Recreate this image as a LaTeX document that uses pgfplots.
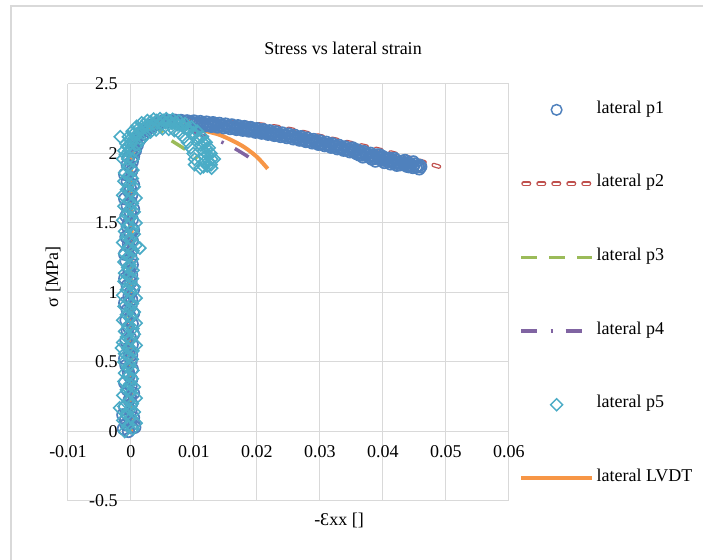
\documentclass[border=0pt]{standalone}
\usepackage{fontspec}
\setmainfont{Liberation Serif}
\usepackage{pgfplots}
\pgfplotsset{compat=1.18}
\definecolor{cP1}{HTML}{4F81BD}
\definecolor{cP2}{HTML}{C0504D}
\definecolor{cP3}{HTML}{9BBB59}
\definecolor{cP4}{HTML}{8064A2}
\definecolor{cP5}{HTML}{4BACC6}
\definecolor{cLV}{HTML}{F79646}
\definecolor{cGrid}{HTML}{D9D9D9}
\newcommand{\fs}{\fontsize{13.5}{16}\selectfont}
\begin{document}
\begin{tikzpicture}[font=\fs]
\path[use as bounding box] (-51pt,-44.25pt) rectangle (476.25pt,375.75pt);
\fill[white] (-51pt,-44.25pt) rectangle (476.25pt,375.75pt);
\draw[cGrid, line width=0.9pt] (-42.75pt,371.25pt) rectangle (520pt,-80pt);
\begin{axis}[
  scale only axis, width=330.75pt, height=312.75pt,
  xmin=-0.01, xmax=0.06, ymin=-0.5, ymax=2.5,
  enlargelimits=false,
  axis lines=middle, axis line style={cGrid, line width=0.75pt, -},
  hide obscured x ticks=false, hide obscured y ticks=false,
  xtick={-0.01,0,0.01,0.02,0.03,0.04,0.05,0.06},
  ytick={-0.5,0,0.5,1,1.5,2,2.5},
  grid=major, major grid style={cGrid, line width=0.75pt},
  major tick length=0pt,
  scaled x ticks=false, scaled y ticks=false,
  /pgf/number format/assume math mode=true,
  xticklabel style={/pgf/number format/fixed, /pgf/number format/precision=2, yshift=-7pt},
  yticklabel style={xshift=-6.5pt},
  tick label style={font=\fs},
  legend cell align=left,
  legend style={at={(axis description cs:1.0227,0.496)}, anchor=west, draw=none, fill=none,
    inner sep=0pt, row sep=41.7pt, font=\fs,
    nodes={text height=0.72em, text depth=0.24em}},
]
% ---------- lateral p1 (circles)
\addplot[only marks, mark=o, mark size=4.3pt, mark options={cP1, line width=1.3pt}, forget plot] coordinates {
(-0.0004,0.000)(0.0002,0.025)(-0.0008,0.050)(-0.0001,0.075)(0.0004,0.100)(-0.0006,0.125)(0.0000,0.150)(-0.0010,0.175)(0.0001,0.200)(-0.0003,0.225)
(-0.0001,0.250)(0.0004,0.275)(-0.0006,0.300)(0.0000,0.325)(-0.0010,0.350)(0.0001,0.375)(-0.0003,0.400)(-0.0004,0.425)(0.0002,0.450)(-0.0008,0.475)
(0.0000,0.500)(-0.0010,0.525)(0.0001,0.550)(-0.0003,0.575)(-0.0004,0.600)(0.0002,0.625)(-0.0008,0.650)(-0.0001,0.675)(0.0004,0.700)(-0.0006,0.725)
(-0.0004,0.750)(0.0002,0.775)(-0.0008,0.800)(-0.0001,0.825)(0.0004,0.850)(-0.0006,0.875)(0.0000,0.900)(-0.0010,0.925)(0.0001,0.950)(-0.0003,0.975)
(-0.0001,1.000)(0.0004,1.025)(-0.0006,1.050)(0.0000,1.075)(-0.0010,1.100)(0.0001,1.125)(-0.0003,1.150)(-0.0004,1.175)(0.0002,1.200)(-0.0008,1.225)
(0.0000,1.250)(-0.0010,1.275)(0.0001,1.300)(-0.0003,1.325)(-0.0004,1.350)(0.0002,1.375)(-0.0008,1.400)(-0.0001,1.425)(0.0004,1.450)(-0.0006,1.475)
(-0.0004,1.500)(0.0002,1.525)(-0.0008,1.550)(-0.0001,1.575)(0.0004,1.600)(-0.0006,1.625)(0.0000,1.650)(-0.0010,1.675)(0.0001,1.700)(-0.0003,1.725)
(-0.0001,1.750)(0.0004,1.775)(-0.0006,1.800)(0.0000,1.825)(-0.0010,1.850)(0.0001,1.875)
(-0.0012,0.02)(0.0006,0.03)(-0.0009,0.08)(0.0005,0.06)(-0.0013,0.12)
(0.0000,1.90)(0.0002,1.94)(0.0004,1.98)(0.0007,2.02)(0.0010,2.06)(0.0014,2.10)(0.0019,2.135)(0.0025,2.165)(0.0032,2.19)
(0.0040,2.21)(0.0048,2.222)(0.0056,2.229)(0.0064,2.232)(0.0072,2.233)(0.0080,2.232)(0.0088,2.23)(0.0095,2.228)
(-0.0006,1.92)(-0.0004,1.97)(0.0000,2.02)(0.0004,2.07)(0.0009,2.11)(0.0015,2.15)(0.0022,2.18)(0.003,2.2)(0.0039,2.218)
(0.0049,2.23)(0.0059,2.238)(0.0069,2.24)(0.0079,2.238)(0.0089,2.235)(0.0097,2.215)
(0.01000,2.234)(0.01025,2.213)(0.01050,2.222)(0.01075,2.203)
(0.01100,2.230)(0.01125,2.209)(0.01150,2.218)(0.01175,2.199)
(0.01200,2.226)(0.01225,2.205)(0.01250,2.214)(0.01275,2.195)
(0.01300,2.222)(0.01325,2.201)(0.01350,2.210)(0.01375,2.190)
(0.01400,2.217)(0.01425,2.196)(0.01450,2.205)(0.01475,2.185)
(0.01500,2.212)(0.01525,2.190)(0.01550,2.199)(0.01575,2.179)
(0.01600,2.206)(0.01625,2.184)(0.01650,2.193)(0.01675,2.173)
(0.01700,2.200)(0.01725,2.178)(0.01750,2.187)(0.01775,2.167)
(0.01800,2.194)(0.01825,2.172)(0.01850,2.180)(0.01875,2.161)
(0.01900,2.187)(0.01925,2.165)(0.01950,2.173)(0.01975,2.153)
(0.02000,2.179)(0.02025,2.157)(0.02050,2.165)(0.02075,2.146)
(0.02100,2.172)(0.02125,2.150)(0.02150,2.158)(0.02175,2.138)
(0.02200,2.164)(0.02225,2.142)(0.02250,2.150)(0.02275,2.130)
(0.02300,2.156)(0.02325,2.134)(0.02350,2.142)(0.02375,2.122)
(0.02400,2.148)(0.02425,2.126)(0.02450,2.134)(0.02475,2.114)
(0.02500,2.140)(0.02525,2.118)(0.02550,2.126)(0.02575,2.105)
(0.02600,2.131)(0.02625,2.108)(0.02650,2.116)(0.02675,2.096)
(0.02700,2.121)(0.02725,2.098)(0.02750,2.106)(0.02775,2.086)
(0.02800,2.111)(0.02825,2.088)(0.02850,2.096)(0.02875,2.076)
(0.02900,2.101)(0.02925,2.078)(0.02950,2.086)(0.02975,2.066)
(0.03000,2.091)(0.03025,2.068)(0.03050,2.076)(0.03075,2.056)
(0.03100,2.081)(0.03125,2.058)(0.03150,2.066)(0.03175,2.045)
(0.03200,2.070)(0.03225,2.047)(0.03250,2.055)(0.03275,2.034)
(0.03300,2.059)(0.03325,2.036)(0.03350,2.044)(0.03375,2.023)
(0.03400,2.048)(0.03425,2.025)(0.03450,2.033)(0.03475,2.012)
(0.03500,2.037)(0.03525,2.014)(0.03550,2.021)(0.03575,2.000)
(0.03600,2.025)(0.03625,2.002)(0.03650,2.010)(0.03675,1.989)
(0.03700,2.014)(0.03725,1.991)(0.03750,1.998)(0.03775,1.977)
(0.03800,2.002)(0.03825,1.979)(0.03850,1.986)(0.03875,1.965)
(0.03900,1.990)(0.03925,1.967)(0.03950,1.974)(0.03975,1.952)
(0.04000,1.977)(0.04025,1.954)(0.04050,1.962)(0.04075,1.941)
(0.04100,1.966)(0.04125,1.943)(0.04150,1.950)(0.04175,1.929)
(0.04200,1.954)(0.04225,1.932)(0.04250,1.939)(0.04275,1.919)
(0.04300,1.944)(0.04325,1.922)(0.04350,1.929)(0.04375,1.909)
(0.04400,1.934)(0.04425,1.912)(0.04450,1.919)(0.04475,1.899)
(0.04500,1.924)(0.04525,1.902)(0.04550,1.909)(0.04575,1.889)(0.04600,1.905)
(0.0352,2.040)(0.0368,1.975)(0.0382,1.960)(0.0395,1.990)(0.0402,1.935)(0.0418,1.965)(0.0422,1.915)
(0.0435,1.950)(0.0441,1.905)(0.0448,1.940)(0.0458,1.915)(0.0412,1.925)(0.0388,1.945)(0.0362,1.990)
};
% ---------- lateral p2 (hollow dashes)
\addplot[cP2, line width=3.4pt, line cap=round, dash pattern=on 4.1pt off 7.15pt, smooth, forget plot] coordinates {
(0,0)(-0.0002,0.5)(-0.0003,1.0)(-0.0002,1.5)(0,1.9)(0.0008,2.06)(0.002,2.15)(0.004,2.21)(0.006,2.235)(0.008,2.243)
(0.010,2.245)(0.014,2.235)(0.018,2.22)(0.022,2.2)(0.026,2.168)(0.030,2.125)(0.034,2.085)(0.038,2.043)
(0.042,1.998)(0.046,1.945)(0.050,1.89)};
\addplot[white, line width=1.5pt, line cap=round, dash pattern=on 4.1pt off 7.15pt, smooth, forget plot] coordinates {
(0,0)(-0.0002,0.5)(-0.0003,1.0)(-0.0002,1.5)(0,1.9)(0.0008,2.06)(0.002,2.15)(0.004,2.21)(0.006,2.235)(0.008,2.243)
(0.010,2.245)(0.014,2.235)(0.018,2.22)(0.022,2.2)(0.026,2.168)(0.030,2.125)(0.034,2.085)(0.038,2.043)
(0.042,1.998)(0.046,1.945)(0.050,1.89)};
% ---------- lateral p3
\addplot[cP3, line width=2.6pt, dash pattern=on 12pt off 9pt, smooth, forget plot] coordinates {
(0,0)(-0.0003,0.6)(-0.0002,1.3)(0,1.85)(0.0008,2.05)(0.002,2.15)(0.0035,2.19)(0.0048,2.16)(0.0062,2.1)(0.0086,2.03)(0.0105,1.96)};
% ---------- lateral p4
\addplot[cP4, line width=2.6pt, dash pattern=on 12pt off 10pt on 1.8pt off 9.5pt, smooth, forget plot] coordinates {
(0,0)(-0.0003,0.7)(-0.0002,1.4)(0,1.9)(0.001,2.1)(0.003,2.18)(0.005,2.2)(0.007,2.2)(0.009,2.175)(0.0105,2.145)
(0.012,2.12)(0.0137,2.095)(0.015,2.07)(0.0165,2.035)(0.0176,2.005)(0.019,1.965)(0.0202,1.93)};
% ---------- lateral LVDT
\addplot[cLV, line width=3pt, smooth, forget plot] coordinates {
(0,0)(0.0001,0.5)(0,1.0)(0.0001,1.5)(0,1.9)(0.001,2.1)(0.003,2.19)(0.006,2.215)(0.008,2.205)(0.010,2.185)(0.012,2.16)
(0.014,2.135)(0.016,2.095)(0.018,2.045)(0.020,1.975)(0.0217,1.89)};
% ---------- lateral p5 (diamonds)
\addplot[only marks, mark=square, mark size=3.2pt, mark options={cP5, line width=1.2pt, rotate=45}, forget plot] coordinates {
(-0.0010,0.00)(0.0003,0.02)(-0.0005,0.04)(0.0008,0.06)(-0.0013,0.08)(0.0000,0.10)(-0.0007,0.12)(0.0005,0.14)(-0.0002,0.16)(-0.0011,0.18)(0.0002,0.20)(-0.0004,0.22)
(0.0008,0.24)(-0.0013,0.26)(0.0000,0.28)(-0.0007,0.30)(0.0005,0.32)(-0.0002,0.34)(-0.0011,0.36)(0.0002,0.38)(-0.0004,0.40)(-0.0010,0.42)(0.0003,0.44)(-0.0005,0.46)
(-0.0002,0.48)(-0.0011,0.50)(0.0002,0.52)(-0.0004,0.54)(-0.0010,0.56)(0.0003,0.58)(-0.0005,0.60)(0.0008,0.62)(-0.0013,0.64)(0.0000,0.66)(-0.0007,0.68)(0.0005,0.70)
(-0.0010,0.72)(0.0003,0.74)(-0.0005,0.76)(0.0008,0.78)(-0.0013,0.80)(0.0000,0.82)(-0.0007,0.84)(0.0005,0.86)(-0.0002,0.88)(-0.0011,0.90)(0.0002,0.92)(-0.0004,0.94)
(0.0008,0.96)(-0.0013,0.98)(0.0000,1.00)(-0.0007,1.02)(0.0005,1.04)(-0.0002,1.06)(-0.0011,1.08)(0.0002,1.10)(-0.0004,1.12)(-0.0010,1.14)(0.0003,1.16)(-0.0005,1.18)
(-0.0002,1.20)(-0.0011,1.22)(0.0002,1.24)(-0.0004,1.26)(-0.0010,1.28)(0.0003,1.30)(-0.0005,1.32)(0.0008,1.34)(-0.0013,1.36)(0.0000,1.38)(-0.0007,1.40)(0.0005,1.42)
(-0.0010,1.44)(0.0003,1.46)(-0.0005,1.48)(0.0008,1.50)(-0.0013,1.52)(0.0000,1.54)(-0.0007,1.56)(0.0005,1.58)(-0.0002,1.60)(-0.0011,1.62)(0.0002,1.64)(-0.0004,1.66)
(0.0008,1.68)(-0.0013,1.70)(0.0000,1.72)(-0.0007,1.74)(0.0005,1.76)(-0.0002,1.78)(-0.0011,1.80)(0.0002,1.82)(-0.0004,1.84)(-0.0010,1.86)(0.0003,1.88)(-0.0005,1.90)
(-0.0018,0.17)(0.0014,1.32)(-0.0017,2.12)(-0.0015,0.60)
(-0.0013,1.96)(-0.0011,2.02)(-0.0008,2.07)(-0.0004,2.12)(0.0002,2.16)(0.0009,2.195)(0.0017,2.22)(0.0026,2.237)(0.0036,2.247)(0.0046,2.25)(0.0056,2.25)
(0.0066,2.245)(0.0076,2.235)(0.0086,2.215)(0.0096,2.19)(0.0105,2.16)(0.0113,2.12)(0.0119,2.08)(0.0124,2.04)(0.0127,2.0)(0.0128,1.96)(0.0127,1.92)
(-0.0005,1.96)(-0.0003,2.02)(0.0,2.07)(0.0005,2.11)(0.0011,2.145)(0.0018,2.175)(0.0026,2.197)(0.0035,2.212)(0.0045,2.22)(0.0055,2.222)(0.0065,2.218)
(0.0074,2.208)(0.0083,2.19)(0.0091,2.165)(0.0099,2.135)(0.0106,2.1)(0.0111,2.06)(0.0115,2.02)(0.0117,1.98)(0.0117,1.94)(0.0115,1.905)
(0.0003,1.96)(0.0006,2.02)(0.001,2.065)(0.0016,2.1)(0.0023,2.13)(0.0031,2.155)(0.004,2.17)(0.005,2.178)(0.006,2.175)(0.0069,2.165)(0.0077,2.145)
(0.0084,2.115)(0.009,2.08)(0.0095,2.04)(0.0099,2.0)(0.0101,1.96)(0.0101,1.92)
(-0.0009,1.99)(-0.0006,2.05)(-0.0002,2.1)(0.0004,2.14)(0.0012,2.18)(0.0021,2.21)(0.0031,2.228)(0.0041,2.237)(0.0051,2.238)(0.0061,2.234)(0.0071,2.224)
(0.0081,2.205)(0.009,2.18)(0.0099,2.15)(0.0108,2.115)(0.0115,2.075)(0.012,2.035)(0.0122,1.99)(0.0123,1.945)(0.0121,1.91)
(0.0128,1.895)(0.0110,1.895)(0.0132,1.96)
};
% ---------- legend
\addlegendimage{legend image code/.code={\draw[cP1, line width=1.1pt] (26.5pt,0pt) circle (4pt);}}
\addlegendentry{lateral p1}
\addlegendimage{legend image code/.code={
  \draw[cP2, line width=3.4pt, line cap=round, dash pattern=on 4.1pt off 7.15pt] (1.7pt,0pt) -- (51.3pt,0pt);
  \draw[white, line width=1.5pt, line cap=round, dash pattern=on 4.1pt off 7.15pt] (1.7pt,0pt) -- (51.3pt,0pt);}}
\addlegendentry{lateral p2}
\addlegendimage{legend image code/.code={\draw[cP3, line width=2.6pt, dash pattern=on 12pt off 9pt] (0pt,0pt) -- (53pt,0pt);}}
\addlegendentry{lateral p3}
\addlegendimage{legend image code/.code={\draw[cP4, line width=2.6pt, dash pattern=on 12pt off 10pt on 1.8pt off 9.5pt] (0pt,0pt) -- (53pt,0pt);}}
\addlegendentry{lateral p4}
\addlegendimage{legend image code/.code={\draw[cP5, line width=1.1pt, rotate around={45:(26.5pt,0pt)}] (23.3pt,-3.2pt) rectangle (29.7pt,3.2pt);}}
\addlegendentry{lateral p5}
\addlegendimage{legend image code/.code={\draw[cLV, line width=3pt] (0pt,0pt) -- (53pt,0pt);}}
\addlegendentry{lateral LVDT}
\end{axis}
\node at (206.25pt,339.75pt) {Stress vs lateral strain};
\node[rotate=90] at (-11.25pt,168pt) {σ [MPa]};
\node at (203.25pt,-14.25pt) {-Ɛxx []};
\end{tikzpicture}
\end{document}
